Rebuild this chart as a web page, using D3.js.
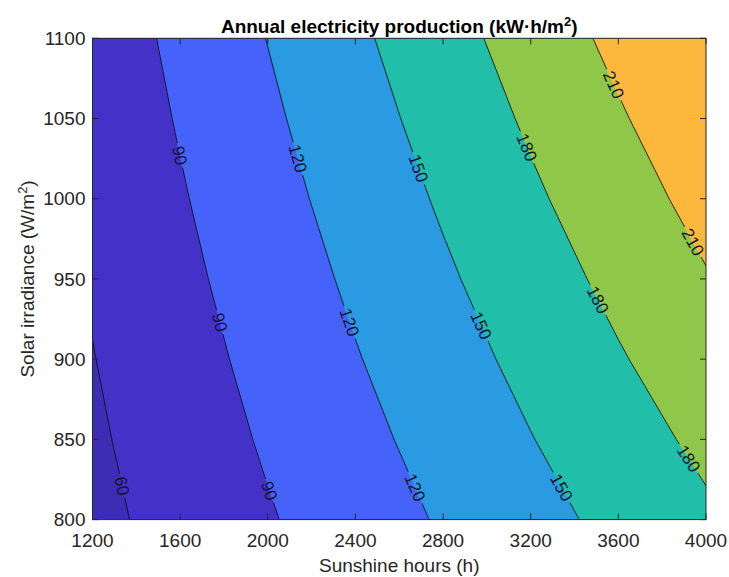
<!DOCTYPE html>
<html>
<head>
<meta charset="utf-8">
<script src="https://cdn.jsdelivr.net/npm/d3@7"></script>
<style>
  body { margin: 0; background: #fff; }
  text { font-family: "Liberation Sans", Arial, Helvetica, sans-serif; }
</style>
</head>
<body>
<svg id="chart" width="729" height="577"></svg>
<script>
// Grid of annual production (kW·h/m²) over sunshine hours × solar irradiance
const sunshineHours = [1200, 1600, 2000, 2400, 2800, 3200, 3600, 4000];
const irradiance = [800, 850, 900, 950, 1000, 1050, 1100];
const production = [
  [52.6, 70.1, 87.7, 105.2, 122.8, 140.3, 157.8, 175.4],
  [55.9, 74.5, 93.2, 111.8, 130.4, 149.1, 167.7, 186.3],
  [59.2, 78.9, 98.6, 118.4, 138.1, 157.8, 177.6, 197.3],
  [62.5, 83.3, 104.1, 124.9, 145.8, 166.6, 187.4, 208.2],
  [65.8, 87.7, 109.6, 131.5, 153.4, 175.4, 197.3, 219.2],
  [69.1, 92.1, 115.1, 138.1, 161.1, 184.1, 207.1, 230.2],
  [72.3, 96.5, 120.6, 144.7, 168.8, 192.9, 217.0, 241.1]
];
const levels = [60, 90, 120, 150, 180, 210];
const xTicks = [1200, 1600, 2000, 2400, 2800, 3200, 3600, 4000];
const yTicks = [800, 850, 900, 950, 1000, 1050, 1100];

// Fill colour for each band: below the first level, then one per level
const bandColors = ["#3d2cb4", "#4331c8", "#4563fa", "#2a9be2", "#21beaa", "#8fc848", "#fcb83c"];

// Irradiance at which each contour carries an inline label
const labelSpots = {
  60: [821],
  90: [1027, 923, 818],
  120: [1025, 923, 820],
  150: [1019, 921, 820],
  180: [1032, 937, 838],
  210: [1071, 973]
};

const svg = d3.select("#chart");
const plot = { left: 92.5, right: 706, top: 38.3, bottom: 519.6 };
const axisColor = "#262626";

const x = d3.scaleLinear().domain([1200, 4000]).range([plot.left, plot.right]);
const y = d3.scaleLinear().domain([800, 1100]).range([plot.bottom, plot.top]);

const nx = sunshineHours.length, ny = irradiance.length;
// d3.contours places sample i at grid coordinate i + 0.5
const gridToHours = d3.scaleLinear().domain([0.5, nx - 0.5]).range([sunshineHours[0], sunshineHours[nx - 1]]);
const gridToIrr = d3.scaleLinear().domain([0.5, ny - 0.5]).range([irradiance[0], irradiance[ny - 1]]);
const toPx = (gx, gy) => [x(gridToHours(gx)), y(gridToIrr(gy))];

const values = production.flat();
const contours = d3.contours().size([nx, ny]).thresholds(levels)(values);

const path = d3.geoPath(d3.geoTransform({
  point: function (gx, gy) { const p = toPx(gx, gy); this.stream.point(p[0], p[1]); }
}));

const defs = svg.append("defs");
defs.append("clipPath").attr("id", "plotClip")
  .append("rect")
  .attr("x", plot.left).attr("y", plot.top)
  .attr("width", plot.right - plot.left).attr("height", plot.bottom - plot.top);

// Filled bands
const fills = svg.append("g").attr("clip-path", "url(#plotClip)");
fills.append("rect")
  .attr("x", plot.left).attr("y", plot.top)
  .attr("width", plot.right - plot.left).attr("height", plot.bottom - plot.top)
  .attr("fill", bandColors[0]);
fills.selectAll("path.band").data(contours).join("path")
  .attr("class", "band")
  .attr("d", path)
  .attr("fill", (d, i) => bandColors[i + 1])
  .attr("stroke", (d, i) => bandColors[i + 1])
  .attr("stroke-width", 0.5);

// Find where each contour crosses a given irradiance, and its direction there
function locate(contour, irr) {
  const py = y(irr);
  let best = null;
  contour.coordinates.forEach(poly => poly.forEach(ring => {
    const pts = ring.map(p => toPx(p[0], p[1]));
    for (let k = 0; k < pts.length - 1; k++) {
      const a = pts[k], b = pts[k + 1];
      if ((a[1] - py) * (b[1] - py) > 0 || a[1] === b[1]) continue;
      const t = (py - a[1]) / (b[1] - a[1]);
      const px = a[0] + t * (b[0] - a[0]);
      if (px <= plot.left + 1 || px >= plot.right - 1) continue;
      let ang = Math.atan2(b[1] - a[1], b[0] - a[0]) * 180 / Math.PI;
      if (ang > 90) ang -= 180;
      if (ang < -90) ang += 180;
      best = { x: px, y: py, angle: ang };
    }
  }));
  return best;
}

const labels = [];
contours.forEach(c => {
  (labelSpots[c.value] || []).forEach(irr => {
    const p = locate(c, irr);
    if (p) labels.push({ value: c.value, ...p });
  });
});

// Label text (measured first so the lines can be broken around it)
const labelG = svg.append("g").attr("clip-path", "url(#plotClip)");
const labelText = labelG.selectAll("text").data(labels).join("text")
  .attr("transform", d => `translate(${d.x},${d.y}) rotate(${d.angle})`)
  .attr("text-anchor", "middle")
  .attr("dy", "0.35em")
  .attr("font-size", 17)
  .attr("fill", "#14142a")
  .text(d => d.value);
labelText.each(function (d) { d.w = this.getComputedTextLength(); });

const mask = defs.append("mask").attr("id", "lineMask")
  .attr("maskUnits", "userSpaceOnUse")
  .attr("x", 0).attr("y", 0).attr("width", 729).attr("height", 577);
mask.append("rect").attr("x", 0).attr("y", 0).attr("width", 729).attr("height", 577).attr("fill", "#fff");
mask.selectAll("rect.gap").data(labels).join("rect")
  .attr("class", "gap")
  .attr("x", d => -d.w / 2 - 3).attr("y", -7)
  .attr("width", d => d.w + 6).attr("height", 14)
  .attr("transform", d => `translate(${d.x},${d.y}) rotate(${d.angle})`)
  .attr("fill", "#000");

// Contour lines
const linesG = svg.insert("g", () => labelG.node()).attr("clip-path", "url(#plotClip)");
linesG.append("g").attr("mask", "url(#lineMask)")
  .selectAll("path").data(contours).join("path")
  .attr("d", path)
  .attr("fill", "none")
  .attr("stroke", "#111")
  .attr("stroke-width", 0.9);

// Axes box with inward ticks on all sides
const axes = svg.append("g");
axes.append("rect")
  .attr("x", plot.left).attr("y", plot.top)
  .attr("width", plot.right - plot.left).attr("height", plot.bottom - plot.top)
  .attr("fill", "none").attr("stroke", axisColor).attr("stroke-width", 1);

const tickLen = 6;
axes.selectAll("line.xb").data(xTicks).join("line")
  .attr("x1", d => x(d)).attr("x2", d => x(d))
  .attr("y1", plot.bottom).attr("y2", plot.bottom - tickLen)
  .attr("stroke", axisColor);
axes.selectAll("line.xt").data(xTicks).join("line")
  .attr("x1", d => x(d)).attr("x2", d => x(d))
  .attr("y1", plot.top).attr("y2", plot.top + tickLen)
  .attr("stroke", axisColor);
axes.selectAll("line.yl").data(yTicks).join("line")
  .attr("x1", plot.left).attr("x2", plot.left + tickLen)
  .attr("y1", d => y(d)).attr("y2", d => y(d))
  .attr("stroke", axisColor);
axes.selectAll("line.yr").data(yTicks).join("line")
  .attr("x1", plot.right).attr("x2", plot.right - tickLen)
  .attr("y1", d => y(d)).attr("y2", d => y(d))
  .attr("stroke", axisColor);

axes.selectAll("text.xl").data(xTicks).join("text")
  .attr("x", d => x(d)).attr("y", plot.bottom + 27)
  .attr("text-anchor", "middle").attr("font-size", 19).attr("fill", axisColor)
  .text(d => d);
axes.selectAll("text.yl").data(yTicks).join("text")
  .attr("x", plot.left - 7).attr("y", d => y(d)).attr("dy", "0.35em")
  .attr("text-anchor", "end").attr("font-size", 19).attr("fill", axisColor)
  .text(d => d);

// Axis titles
svg.append("text")
  .attr("x", (plot.left + plot.right) / 2).attr("y", 572)
  .attr("text-anchor", "middle").attr("font-size", 19).attr("fill", axisColor)
  .text("Sunshine hours (h)");

const yl = svg.append("text")
  .attr("transform", `translate(34,${(plot.top + plot.bottom) / 2}) rotate(-90)`)
  .attr("text-anchor", "middle").attr("font-size", 19).attr("fill", axisColor);
yl.append("tspan").text("Solar irradiance (W/m");
yl.append("tspan").attr("font-size", 13).attr("dy", -7).text("2");
yl.append("tspan").attr("dy", 7).text(")");

const title = svg.append("text")
  .attr("x", (plot.left + plot.right) / 2).attr("y", 33)
  .attr("text-anchor", "middle").attr("font-size", 19).attr("font-weight", "bold").attr("fill", "#000");
title.append("tspan").text("Annual electricity production (kW·h/m");
title.append("tspan").attr("font-size", 13).attr("dy", -7).text("2");
title.append("tspan").attr("dy", 7).text(")");
</script>
</body>
</html>
